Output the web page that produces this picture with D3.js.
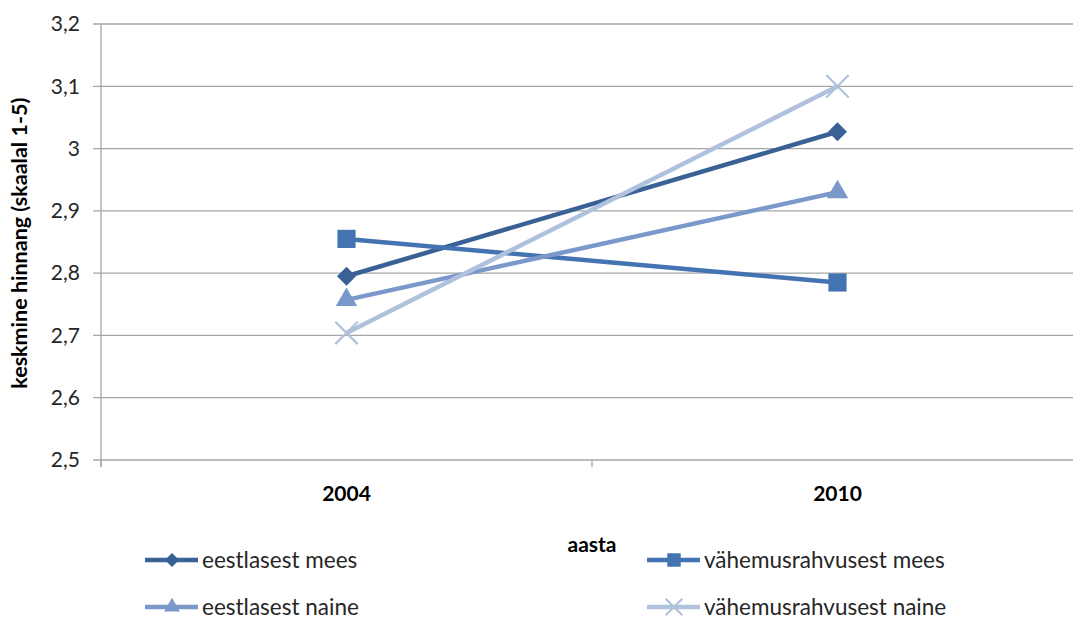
<!DOCTYPE html>
<html>
<head>
<meta charset="utf-8">
<script src="https://cdn.jsdelivr.net/npm/d3@7"></script>
<style>
  body { margin: 0; background: #fff; }
  svg { display: block; font-family: Lato, "Open Sans", sans-serif; }
</style>
</head>
<body>
<div id="chart"></div>
<script>
// Data
const years = ["2004", "2010"];
const seriesNames = ["eestlasest mees", "vähemusrahvusest mees", "eestlasest naine", "vähemusrahvusest naine"];
const eestlasestMees = [2.795, 3.027];
const vahemusMees = [2.855, 2.785];
const eestlasestNaine = [2.757, 2.93];
const vahemusNaine = [2.704, 3.1];
const yTicks = [2.5, 2.6, 2.7, 2.8, 2.9, 3.0, 3.1, 3.2];

const colors = ["#3A6195", "#4473B1", "#7B98CA", "#B0C1DD"];
const symbols = [d3.symbolDiamond2, d3.symbolSquare2, d3.symbolTriangle2, d3.symbolTimes];

const width = 1073, height = 619;
const margin = { left: 101, right: -10, top: 24, bottom: 159 };

const svg = d3.select("#chart").append("svg")
  .attr("width", width)
  .attr("height", height);

const x = d3.scaleBand()
  .domain(years)
  .range([margin.left, width - margin.right]);

const y = d3.scaleLinear()
  .domain([2.5, 3.2])
  .range([height - margin.bottom, margin.top]);

// gridlines
svg.append("g")
  .selectAll("line")
  .data(yTicks)
  .join("line")
  .attr("x1", margin.left - 8)
  .attr("x2", width)
  .attr("y1", d => y(d))
  .attr("y2", d => y(d))
  .attr("stroke", "#a6a6a6")
  .attr("stroke-width", 1.3);

// y axis line
svg.append("line")
  .attr("x1", margin.left).attr("x2", margin.left)
  .attr("y1", y(3.2)).attr("y2", y(2.5) + 7)
  .attr("stroke", "#a6a6a6").attr("stroke-width", 1.3);

// x tick marks at band boundaries
const boundaries = [margin.left, margin.left + x.bandwidth()];
svg.append("g")
  .selectAll("line")
  .data(boundaries)
  .join("line")
  .attr("x1", d => d).attr("x2", d => d)
  .attr("y1", y(2.5)).attr("y2", y(2.5) + 7)
  .attr("stroke", "#a6a6a6").attr("stroke-width", 1.3);

// y tick labels
svg.append("g")
  .selectAll("text")
  .data(yTicks)
  .join("text")
  .attr("x", 80)
  .attr("y", d => y(d))
  .attr("dy", "0.35em")
  .attr("text-anchor", "end")
  .attr("font-size", 21)
  .attr("fill", "#262626")
  .text(d => d3.format(".1f")(d).replace(".", ",").replace(",0", ""));

// x tick labels
svg.append("g")
  .selectAll("text")
  .data(years)
  .join("text")
  .attr("x", d => x(d) + x.bandwidth() / 2)
  .attr("y", 501)
  .attr("text-anchor", "middle")
  .attr("font-size", 21)
  .attr("font-weight", "bold")
  .attr("fill", "#000")
  .text(d => d);

// axis titles
svg.append("text")
  .attr("x", 592).attr("y", 552)
  .attr("text-anchor", "middle")
  .attr("font-size", 21)
  .attr("font-weight", "bold")
  .text("aasta");

svg.append("text")
  .attr("transform", "translate(27," + y(2.848) + ") rotate(-90)")
  .attr("text-anchor", "middle")
  .attr("font-size", 21.5)
  .attr("font-weight", "bold")
  .text("keskmine hinnang (skaalal 1-5)");

// series
const allSeries = [eestlasestMees, vahemusMees, eestlasestNaine, vahemusNaine];
const line = d3.line()
  .x((d, i) => x(years[i]) + x.bandwidth() / 2)
  .y(d => y(d));

const sizes = [230, 420, 330, 330];

function drawMarker(g, i, cx, cy, scale) {
  const sym = d3.symbol().type(symbols[i]).size(sizes[i] * scale);
  const p = g.append("path")
    .attr("d", sym())
    .attr("transform", "translate(" + cx + "," + cy + ")");
  if (i === 3) {
    p.attr("fill", "none").attr("stroke", colors[i]).attr("stroke-width", 2.2);
  } else {
    p.attr("fill", colors[i]).attr("stroke", "none");
  }
}

allSeries.forEach((vals, i) => {
  const g = svg.append("g");
  g.append("path")
    .datum(vals)
    .attr("d", line)
    .attr("fill", "none")
    .attr("stroke", colors[i])
    .attr("stroke-width", 4.5);
  vals.forEach((v, j) => {
    drawMarker(g, i, x(years[j]) + x.bandwidth() / 2, y(v), 1);
  });
});

// legend
const legendPos = [[145, 560], [647, 560], [145, 607], [647, 607]];
seriesNames.forEach((name, i) => {
  const [lx, ly] = legendPos[i];
  const g = svg.append("g");
  g.append("line")
    .attr("x1", lx).attr("x2", lx + 53)
    .attr("y1", ly).attr("y2", ly)
    .attr("stroke", colors[i]).attr("stroke-width", 4.5);
  drawMarker(g, i, lx + 27, ly, 0.55);
  g.append("text")
    .attr("x", lx + 57)
    .attr("y", ly)
    .attr("dy", "0.35em")
    .attr("font-size", 22.5)
    .attr("fill", "#262626")
    .text(name);
});
</script>
</body>
</html>
